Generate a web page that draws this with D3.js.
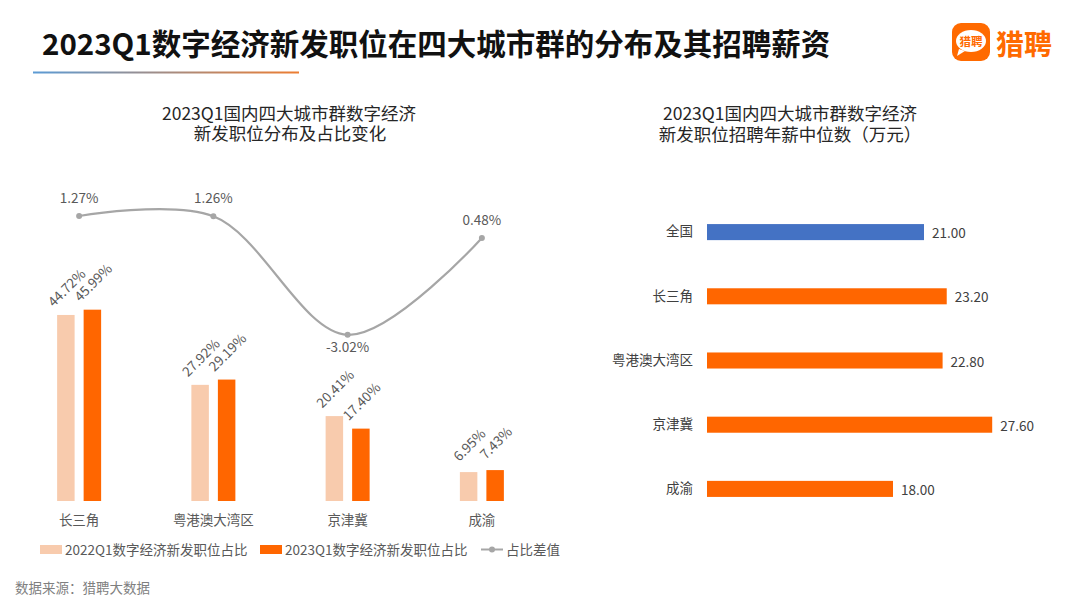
<!DOCTYPE html>
<html><head><meta charset="utf-8">
<script src="https://cdn.jsdelivr.net/npm/d3@7"></script>
<style>
html,body{margin:0;padding:0;background:#fff;}
svg{display:block;font-family:"Microsoft YaHei","Noto Sans CJK SC","Noto Sans",sans-serif;}
</style></head>
<body>
<svg id="chart" width="1080" height="608"></svg>
<script>
// ---- data ----
const categories = ["长三角", "粤港澳大湾区", "京津冀", "成渝"];
const share2022 = [44.72, 27.92, 20.41, 6.95];
const share2023 = [45.99, 29.19, 17.40, 7.43];
const shareDiff = [1.27, 1.26, -3.02, 0.48];
const seriesNames = ["2022Q1数字经济新发职位占比", "2023Q1数字经济新发职位占比", "占比差值"];
const salaryCats = ["全国", "长三角", "粤港澳大湾区", "京津冀", "成渝"];
const salaryVals = [21.00, 23.20, 22.80, 27.60, 18.00];

const svg = d3.select("#chart");
const textCol = "#595959";
const orange = "#FF6600", lightOrange = "#F8CBAD", gray = "#A6A6A6", blue = "#4472C4";

// ---- header ----
svg.append("text").attr("x", 42).attr("y", 55)
  .attr("font-size", 29.5).attr("font-weight", "bold").attr("fill", "#111")
  .text("2023Q1数字经济新发职位在四大城市群的分布及其招聘薪资");
const defs = svg.append("defs");
const grad = defs.append("linearGradient").attr("id", "ul").attr("x1", "0").attr("x2", "1");
grad.append("stop").attr("offset", "0").attr("stop-color", "#5B9BD5");
grad.append("stop").attr("offset", "1").attr("stop-color", "#ED7D31");
svg.append("rect").attr("x", 33).attr("y", 71.5).attr("width", 266).attr("height", 2).attr("fill", "url(#ul)");

// logo
const logo = svg.append("g");
logo.append("rect").attr("x", 952).attr("y", 23).attr("width", 38).attr("height", 38).attr("rx", 9).attr("fill", "#FF6A00");
logo.append("path").attr("d", "M 959 49 L 957 56 L 965 51 Z").attr("fill", "#fff");
logo.append("ellipse").attr("cx", 971).attr("cy", 41).attr("rx", 15).attr("ry", 11).attr("fill", "#fff");
logo.append("text").attr("x", 971).attr("y", 45.5).attr("text-anchor", "middle").attr("font-size", 11.5)
  .attr("font-weight", "bold").attr("fill", "#FF6A00").text("猎聘");
logo.append("text").attr("x", 996).attr("y", 55).attr("font-size", 28).attr("font-weight", "bold")
  .attr("fill", "#FF6A00").text("猎聘");

// source
svg.append("text").attr("x", 15).attr("y", 593).attr("font-size", 13.5).attr("fill", "#7F7F7F").text("数据来源：猎聘大数据");

// ---- left chart ----
const lt = svg.append("g").attr("font-size", 17.5).attr("fill", "#262626").attr("text-anchor", "middle");
lt.append("text").attr("x", 289).attr("y", 120).text("2023Q1国内四大城市群数字经济");
lt.append("text").attr("x", 290).attr("y", 140).text("新发职位分布及占比变化");

const x = d3.scaleBand().domain(categories).range([12, 549]).padding(0);
const xi = d3.scaleBand().domain(["a", "b"]).range([-22, 22]).paddingInner(0.34);
const yBar = d3.scaleLinear().domain([0, 50]).range([501, 293]);
const yLine = d3.scaleLinear().domain([-4, 2]).range([362, 195.8]);
const cx = c => x(c) + x.bandwidth() / 2;

const barData = [];
categories.forEach((c, i) => {
  barData.push({ c, k: "a", v: share2022[i], col: lightOrange });
  barData.push({ c, k: "b", v: share2023[i], col: orange });
});
const bg = svg.append("g");
bg.selectAll("rect").data(barData).join("rect")
  .attr("x", d => cx(d.c) + xi(d.k)).attr("width", xi.bandwidth())
  .attr("y", d => yBar(d.v)).attr("height", d => yBar(0) - yBar(d.v)).attr("fill", d => d.col);
bg.selectAll("text").data(barData).join("text")
  .attr("transform", d => `translate(${cx(d.c) + xi(d.k) + xi.bandwidth() / 2},${yBar(d.v) - 28}) rotate(-45)`)
  .attr("text-anchor", "middle").attr("dominant-baseline", "central")
  .attr("font-size", 13.5).attr("fill", textCol).text(d => d.v.toFixed(2) + "%");

// x axis labels
const xAxis = d3.axisBottom(x).tickSize(0).tickPadding(0);
const ax = svg.append("g").attr("transform", "translate(0,513)").call(xAxis);
ax.select(".domain").remove();
ax.selectAll("text").attr("font-size", 13.5).attr("fill", textCol).attr("dy", "0.9em")
  .style("font-family", "'Microsoft YaHei','Noto Sans CJK SC',sans-serif");

// line
const lineData = categories.map((c, i) => ({ c, v: shareDiff[i] }));
const line = d3.line().x(d => cx(d.c)).y(d => yLine(d.v)).curve(d3.curveCatmullRom.alpha(0.5));
svg.append("path").datum(lineData).attr("d", line).attr("fill", "none").attr("stroke", gray).attr("stroke-width", 2.2);
svg.selectAll(".pt").data(lineData).join("circle").attr("class", "pt")
  .attr("cx", d => cx(d.c)).attr("cy", d => yLine(d.v)).attr("r", 3).attr("fill", gray);
svg.selectAll(".pl").data(lineData).join("text").attr("class", "pl")
  .attr("x", d => cx(d.c)).attr("y", d => d.v < 0 ? yLine(d.v) + 17 : yLine(d.v) - 13)
  .attr("text-anchor", "middle").attr("font-size", 13.5).attr("fill", textCol)
  .text(d => d.v.toFixed(2) + "%");

// legend
const lg = svg.append("g").attr("font-size", 13.5).attr("fill", textCol);
lg.append("rect").attr("x", 40).attr("y", 545).attr("width", 22).attr("height", 9).attr("fill", lightOrange);
lg.append("text").attr("x", 65).attr("y", 554.5).text(seriesNames[0]);
lg.append("rect").attr("x", 260).attr("y", 545).attr("width", 22).attr("height", 9).attr("fill", orange);
lg.append("text").attr("x", 285).attr("y", 554.5).text(seriesNames[1]);
lg.append("line").attr("x1", 481).attr("x2", 503).attr("y1", 549.5).attr("y2", 549.5).attr("stroke", gray).attr("stroke-width", 2);
lg.append("circle").attr("cx", 492).attr("cy", 549.5).attr("r", 3).attr("fill", gray);
lg.append("text").attr("x", 506).attr("y", 554.5).text(seriesNames[2]);

// ---- right chart ----
const rt = svg.append("g").attr("font-size", 17.5).attr("fill", "#262626").attr("text-anchor", "middle");
rt.append("text").attr("x", 790).attr("y", 120).text("2023Q1国内四大城市群数字经济");
rt.append("text").attr("x", 790).attr("y", 141).text("新发职位招聘年薪中位数（万元）");

const xs = d3.scaleLinear().domain([0, 30]).range([707, 707 + 310]);
const ys = d3.scaleBand().domain(salaryCats).range([200, 521]).paddingInner(0.75).paddingOuter(0.375);
const sd = salaryCats.map((c, i) => ({ c, v: salaryVals[i] }));
svg.selectAll(".sb").data(sd).join("rect").attr("class", "sb")
  .attr("x", xs(0)).attr("y", d => ys(d.c)).attr("height", ys.bandwidth())
  .attr("width", d => xs(d.v) - xs(0)).attr("fill", (d, i) => i === 0 ? blue : orange);
svg.selectAll(".sv").data(sd).join("text").attr("class", "sv")
  .attr("x", d => xs(d.v) + 8).attr("y", d => ys(d.c) + ys.bandwidth() / 2)
  .attr("dominant-baseline", "central").attr("font-size", 13.5).attr("fill", "#404040")
  .text(d => d.v.toFixed(2));
const ay = svg.append("g").attr("transform", "translate(693,0)").call(d3.axisLeft(ys).tickSize(0).tickPadding(0));
ay.select(".domain").remove();
ay.selectAll("text").attr("font-size", 13.5).attr("fill", "#404040")
  .style("font-family", "'Microsoft YaHei','Noto Sans CJK SC',sans-serif");
</script>
</body></html>
